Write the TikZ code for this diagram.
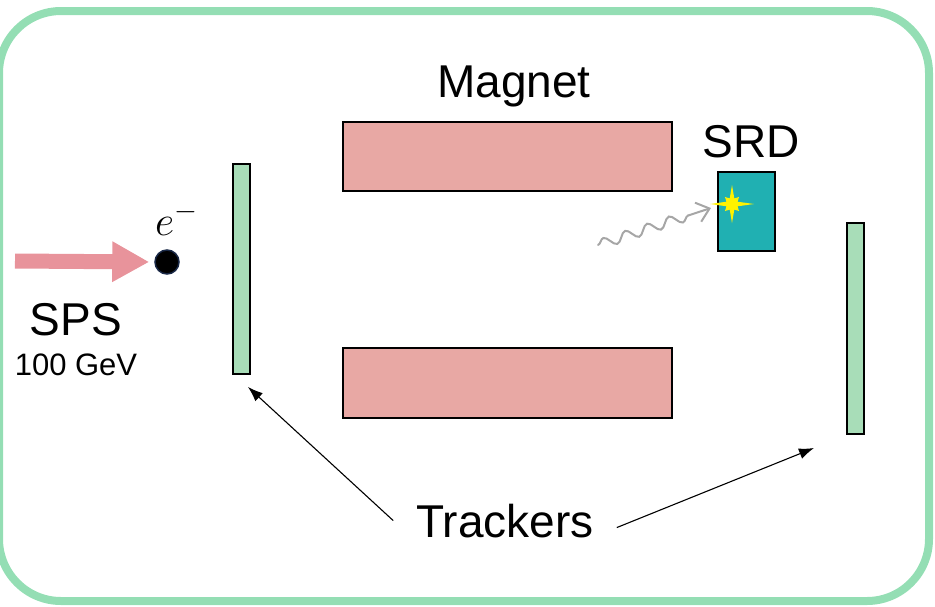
\documentclass[tikz,border=0pt]{standalone}
\usepackage{fix-cm}
\usepackage{fontspec}
\setmainfont{Liberation Sans}
\usetikzlibrary{arrows.meta,decorations.pathmorphing}

\definecolor{frame}{RGB}{148,222,180}
\definecolor{magnet}{RGB}{232,168,164}
\definecolor{tracker}{RGB}{168,221,184}
\definecolor{srdfill}{RGB}{32,176,178}
\definecolor{beam}{RGB}{232,147,155}
\definecolor{photon}{RGB}{166,166,166}
\definecolor{dotline}{RGB}{25,40,70}

\tikzset{
  block/.style={draw=black, line width=2pt, inner sep=0pt},
  magbox/.style={block, fill=magnet, minimum width=329pt, minimum height=69pt},
  trkbox/.style={block, fill=tracker, minimum width=17pt, minimum height=210pt},
  bigtxt/.style={font=\fontsize{46}{50}\selectfont, inner sep=0pt},
  pointer/.style={line width=1.1pt, -{Latex[length=15pt,width=11pt]}}
}

\begin{document}
\begin{tikzpicture}[x=1pt,y=-1pt]
        \useasboundingbox (0,0) rectangle (935,606);
        % Frame
        \draw[frame, line width=8pt, rounded corners=62pt] (-1,11) rectangle (929,601);
        % Beam
        \node[circle, fill=black, draw=dotline, line width=1.5pt, minimum size=24pt, inner sep=0pt] (dot) at (167,262) {};
        \coordinate (src) at (15,261);
        \draw[beam, line width=15pt, -{Triangle[length=37pt,width=38pt]}, shorten >=5pt] (src) -- (dot.west);
        \node[font=\fontsize{42}{46}\selectfont, anchor=base west, inner sep=0pt] (elec) at (155,235) {$e^-$};
        \node[bigtxt, anchor=base] (sps) at (76,335) {SPS};
        \node[font=\fontsize{31}{34}\selectfont, inner sep=0pt, anchor=base] (energy) at (76,375) {100 GeV};
        % Trackers
        \node[trkbox] (ltrk) at (241.5,269) {};
        \node[trkbox, minimum height=211pt] (rtrk) at (855.5,328.5) {};
        % Magnet
        \node[magbox] (magtop) at (507.5,156.5) {};
        \node[magbox, minimum height=70pt] (magbot) at (507.5,382.5) {};
        \node[bigtxt, anchor=base] (magtxt) at (514,97) {Magnet};
        % SRD
        \node[block, fill=srdfill, minimum width=57pt, minimum height=79pt] (srd) at (746.5,211.5) {};
        \node[bigtxt, anchor=base] (srdtxt) at (751,157) {SRD};
        \coordinate (flash) at (732,204);
        \fill[yellow, shift={(flash)}] (0:22) -- (22.5:6) -- (45:10) -- (67.5:6) -- (90:19) -- (112.5:6)
              -- (135:10) -- (157.5:6) -- (180:22) -- (202.5:6) -- (225:10) -- (247.5:6)
              -- (270:19) -- (292.5:6) -- (315:10) -- (337.5:6) -- cycle;
        % Photon
        \coordinate (ph) at (598,245);
        \coordinate (hit) at (711,208);
        \draw[photon, line width=2pt, line cap=round, -{Straight Barb[length=12pt,width=20pt]},
              decorate, decoration={snake, amplitude=5pt, segment length=23pt, post length=16pt}] (ph) -- (hit);
        % Labels
        \node[bigtxt, anchor=base] (trk) at (505,537) {Trackers};
        \draw[pointer] ([xshift=-23pt]trk.west) -- ([shift={(-3,12)}]ltrk.south east);
        \draw[pointer] ([shift={(23,7)}]trk.east) -- ([shift={(-32,13)}]rtrk.south west);
    \end{tikzpicture}
\end{document}
